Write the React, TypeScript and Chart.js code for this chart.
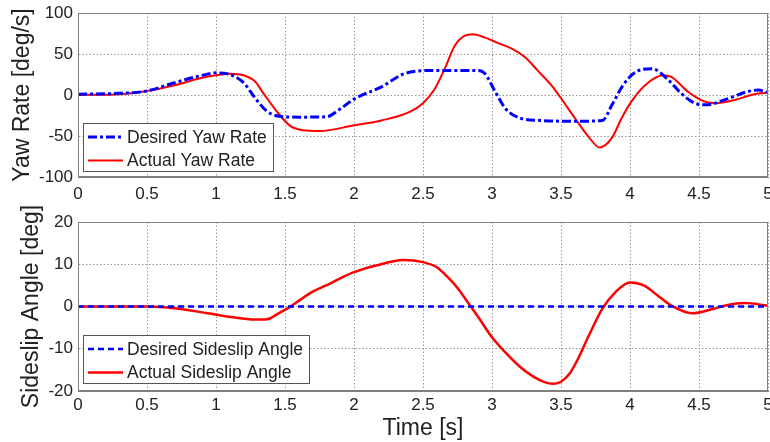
import { useEffect, useRef } from "react";
import { Chart, registerables } from "chart.js";

Chart.register(...registerables);

const FONT = '"Liberation Sans", Arial, sans-serif';
const TEXT = "#222222";
const GRID = "#9a9a9a";
const FRAME = "#808080";

// ---- Yaw rate (top) ----
const yawDesiredT = [0, 0.3, 0.5, 0.7, 0.9, 1.0, 1.1, 1.2, 1.28, 1.37, 1.46, 1.6, 1.8, 1.9, 2.0, 2.2, 2.35, 2.45, 2.6, 2.9, 2.95, 3.02, 3.1, 3.2, 3.35, 3.6, 3.8, 3.87, 3.95, 4.04, 4.16, 4.28, 4.37, 4.47, 4.55, 4.7, 4.85, 4.93, 5.0];
const yawDesired = [1, 2, 5, 15, 24, 27, 25, 15, -3, -20, -26, -27, -26.5, -17, -5, 10, 25, 29, 30, 30, 26, 5, -17, -28, -31, -32, -31, -12, 12, 28, 32, 18, 2, -10, -12, -5, 4, 6, 3];

const yawActualT = [0, 0.3, 0.5, 0.7, 0.9, 1.0, 1.1, 1.2, 1.28, 1.34, 1.44, 1.54, 1.63, 1.75, 2.0, 2.2, 2.4, 2.5, 2.58, 2.66, 2.73, 2.8, 2.86, 2.95, 3.05, 3.15, 3.24, 3.33, 3.43, 3.5, 3.6, 3.7, 3.78, 3.87, 3.94, 4.01, 4.11, 4.24, 4.3, 4.42, 4.54, 4.62, 4.76, 4.9, 5.0];
const yawActual = [0, 1, 5, 12, 21, 24, 26, 24, 17, 3, -20, -38, -43, -44, -37, -31, -21, -10, 6, 33, 60, 72, 74, 70, 63, 56, 46, 30, 12, -4, -28, -51, -64, -52, -28, -8, 12, 24, 22, 4, -8, -10, -6, 1, 3];

const yawTicks = [-100, -50, 0, 50, 100];

// ---- Sideslip angle (bottom) ----
const slipDesiredT = [0, 5];
const slipDesired = [0, 0];

const slipActualT = [0, 0.5, 0.7, 0.94, 1.11, 1.28, 1.37, 1.45, 1.55, 1.62, 1.7, 1.83, 1.99, 2.16, 2.36, 2.5, 2.6, 2.65, 2.75, 2.85, 2.9, 3.0, 3.1, 3.2, 3.3, 3.38, 3.44, 3.5, 3.56, 3.62, 3.7, 3.8, 3.9, 4.0, 4.1, 4.2, 4.3, 4.45, 4.6, 4.7, 4.83, 5.0];
const slipActual = [0, 0, -0.4, -1.6, -2.5, -3.1, -3, -1.7, 0.2, 1.8, 3.5, 5.5, 8, 9.7, 11, 10.5, 9.3, 7.9, 4.4, -0.2, -2.5, -7.3, -11, -14.2, -16.6, -17.9, -18.3, -17.8, -16, -12.6, -7, -0.5, 3.6, 5.7, 5, 2.6, 0.2, -1.6, -0.6, 0.3, 0.8, 0.2];

const slipTicks = [-20, -10, 0, 10, 20];
const timeTicks = [0, 0.5, 1, 1.5, 2, 2.5, 3, 3.5, 4, 4.5, 5];

const pts = (t: number[], v: number[]) => t.map((x, i) => ({ x, y: v[i] }));

const framePlugin = {
  id: "frame",
  afterDraw(chart: any) {
    const { ctx, chartArea } = chart;
    ctx.save();
    ctx.strokeStyle = FRAME;
    ctx.lineWidth = 1;
    ctx.setLineDash([]);
    ctx.strokeRect(
      Math.round(chartArea.left) + 0.5,
      Math.round(chartArea.top) + 0.5,
      Math.round(chartArea.right - chartArea.left) - 1,
      Math.round(chartArea.bottom - chartArea.top) - 1
    );
    ctx.restore();
  },
};

const boxLegendPlugin = {
  id: "boxLegend",
  afterDraw(chart: any, _args: any, opts: any) {
    const { ctx, chartArea } = chart;
    const ds = chart.data.datasets;
    ctx.save();
    ctx.font = `${opts.fontSize}px ${FONT}`;
    const textW = Math.max(...ds.map((d: any) => ctx.measureText(d.label).width));
    const w = 44 + textW + 6;
    const h = 48;
    const x0 = chartArea.left + 5;
    const y0 = chartArea.bottom - opts.dy - h;
    ctx.fillStyle = "#ffffff";
    ctx.fillRect(x0, y0, w, h);
    ctx.strokeStyle = "#555555";
    ctx.lineWidth = 1;
    ctx.strokeRect(Math.round(x0) + 0.5, Math.round(y0) + 0.5, Math.round(w), Math.round(h));
    ds.forEach((d: any, i: number) => {
      const ry = y0 + 14 + i * 23.5;
      ctx.beginPath();
      ctx.strokeStyle = d.borderColor;
      ctx.lineWidth = d.borderWidth;
      ctx.setLineDash(d.borderDash || []);
      ctx.moveTo(x0 + 5, ry);
      ctx.lineTo(x0 + 40, ry);
      ctx.stroke();
      ctx.setLineDash([]);
      ctx.fillStyle = TEXT;
      ctx.textBaseline = "middle";
      ctx.textAlign = "left";
      ctx.fillText(d.label, x0 + 44, ry + 1);
    });
    ctx.restore();
  },
};

function buildOptions(cfg: {
  padTop: number;
  xHeight: number;
  xTickPad: number;
  xTitle?: string;
  yMin: number;
  yMax: number;
  yStep: number;
  yTitle: string;
  yTitlePad: number;
  legendDy: number;
}) {
  return {
    animation: false,
    responsive: false,
    maintainAspectRatio: false,
    layout: { padding: { top: cfg.padTop, right: 2, left: 0, bottom: 0 } },
    elements: { point: { radius: 0 } },
    plugins: {
      legend: { display: false },
      tooltip: { enabled: false },
      boxLegend: { fontSize: 17.5, dy: cfg.legendDy },
    },
    scales: {
      x: {
        type: "linear",
        min: 0,
        max: 5,
        afterBuildTicks: (s: any) => {
          s.ticks = timeTicks.map((v) => ({ value: v }));
        },
        ticks: {
          padding: cfg.xTickPad,
          color: TEXT,
          font: { family: FONT, size: 17 },
          maxRotation: 0,
          autoSkip: false,
          callback: (v: any) => String(v),
        },
        grid: { color: GRID, lineWidth: 1, drawTicks: false },
        border: { display: true, color: FRAME, dash: [1.5, 2] },
        title: cfg.xTitle
          ? {
              display: true,
              text: cfg.xTitle,
              color: TEXT,
              font: { family: FONT, size: 23 },
              padding: { top: 0, bottom: 0 },
            }
          : { display: false },
        afterFit: (s: any) => {
          s.height = cfg.xHeight;
          s.paddingLeft = 0;
          s.paddingRight = 0;
        },
      },
      y: {
        type: "linear",
        min: cfg.yMin,
        max: cfg.yMax,
        ticks: {
          stepSize: cfg.yStep,
          padding: 5,
          color: TEXT,
          font: { family: FONT, size: 17 },
          callback: (v: any) => String(v),
        },
        grid: { color: GRID, lineWidth: 1, drawTicks: false },
        border: { display: true, color: FRAME, dash: [1.5, 2] },
        title: {
          display: true,
          text: cfg.yTitle,
          color: TEXT,
          font: { family: FONT, size: 23 },
          padding: { top: cfg.yTitlePad, bottom: 0 },
        },
        afterFit: (s: any) => {
          s.width = 78;
          s.paddingTop = 0;
          s.paddingBottom = 0;
        },
      },
    },
  };
}

export default function App() {
  const topRef = useRef<HTMLCanvasElement>(null);
  const botRef = useRef<HTMLCanvasElement>(null);

  useEffect(() => {
    const top = new Chart(topRef.current as HTMLCanvasElement, {
      type: "line",
      data: {
        datasets: [
          {
            label: "Desired Yaw Rate",
            data: pts(yawDesiredT, yawDesired),
            borderColor: "#0000ff",
            borderWidth: 3,
            borderDash: [9, 3, 3, 3],
            cubicInterpolationMode: "monotone",
            fill: false,
          },
          {
            label: "Actual Yaw Rate",
            data: pts(yawActualT, yawActual),
            borderColor: "#ff0000",
            borderWidth: 2,
            cubicInterpolationMode: "monotone",
            fill: false,
          },
        ],
      },
      options: buildOptions({
        padTop: 13,
        xHeight: 27,
        xTickPad: 7,
        yMin: yawTicks[0],
        yMax: yawTicks[yawTicks.length - 1],
        yStep: yawTicks[1] - yawTicks[0],
        yTitle: "Yaw Rate [deg/s]",
        yTitlePad: 9,
        legendDy: 6,
      }) as any,
      plugins: [framePlugin, boxLegendPlugin],
    });

    const bot = new Chart(botRef.current as HTMLCanvasElement, {
      type: "line",
      data: {
        datasets: [
          {
            label: "Desired Sideslip Angle",
            data: pts(slipDesiredT, slipDesired),
            borderColor: "#0000ff",
            borderWidth: 2.5,
            borderDash: [6, 4],
            fill: false,
          },
          {
            label: "Actual Sideslip Angle",
            data: pts(slipActualT, slipActual),
            borderColor: "#ff0000",
            borderWidth: 2.5,
            cubicInterpolationMode: "monotone",
            fill: false,
          },
        ],
      },
      options: buildOptions({
        padTop: 18,
        xHeight: 51,
        xTickPad: 4,
        xTitle: "Time [s]",
        yMin: slipTicks[0],
        yMax: slipTicks[slipTicks.length - 1],
        yStep: slipTicks[1] - slipTicks[0],
        yTitle: "Sideslip Angle [deg]",
        yTitlePad: 18,
        legendDy: 8,
      }) as any,
      plugins: [framePlugin, boxLegendPlugin],
    });

    return () => {
      top.destroy();
      bot.destroy();
    };
  }, []);

  return (
    <div style={{ position: "absolute", left: 0, top: 0, width: 770, height: 442, background: "#ffffff", overflow: "hidden" }}>
      <canvas ref={topRef} width={770} height={204} style={{ position: "absolute", left: 0, top: 0, width: 770, height: 204 }} />
      <canvas ref={botRef} width={770} height={238} style={{ position: "absolute", left: 0, top: 204, width: 770, height: 238 }} />
    </div>
  );
}
